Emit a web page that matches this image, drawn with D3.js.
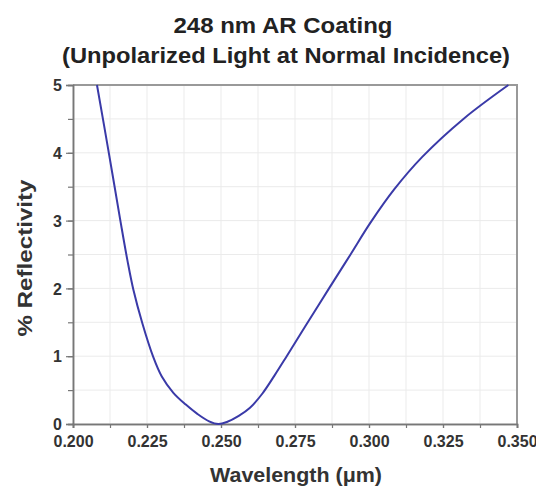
<!DOCTYPE html>
<html>
<head>
<meta charset="utf-8">
<script src="https://cdn.jsdelivr.net/npm/d3@7"></script>
<style>
  body { margin: 0; background: #fff; }
  text { font-family: "Liberation Sans", Arial, sans-serif; font-weight: bold; }
</style>
</head>
<body>
<svg></svg>
<script>
let width = 536;
let height = 489;
let margin = { top: 85, right: 19, bottom: 65, left: 73 };

// wavelength in µm, reflectivity in %
let wavelength = [0.2081, 0.2121, 0.2160, 0.2184, 0.2204, 0.2234, 0.2271, 0.2300, 0.2339, 0.2380,
                  0.2420, 0.2460, 0.2491, 0.2520, 0.2560, 0.2598, 0.2640, 0.2680, 0.2722,
                  0.2789, 0.2865, 0.2936, 0.3005, 0.3085, 0.3180, 0.3319, 0.3471];
let reflectivity = [5.00, 4.00, 3.00, 2.41, 1.98, 1.49, 0.99, 0.70, 0.46, 0.29,
                    0.15, 0.04, 0.00, 0.03, 0.12, 0.24, 0.45, 0.71, 1.00,
                    1.47, 2.00, 2.49, 2.97, 3.46, 3.94, 4.50, 5.00];
let xTicks = [0.200, 0.225, 0.250, 0.275, 0.300, 0.325, 0.350];
let yTicks = [0, 1, 2, 3, 4, 5];

let data = wavelength.map((w, i) => ({ w: w, r: reflectivity[i] }));

let xScale = d3.scaleLinear()
                .domain([0.2, 0.35])
                .range([margin.left, width - margin.right]);

let yScale = d3.scaleLinear()
                .domain([0, 5])
                .range([height - margin.bottom, margin.top]);

let svg = d3.select('svg')
              .attr('width', width)
              .attr('height', height);

// grid
let xMinor = d3.range(0.2, 0.3501, 0.0125);
let yMinor = d3.range(0, 5.01, 0.5);

svg.append('g')
  .selectAll('line')
  .data(xMinor)
  .enter()
  .append('line')
    .attr('x1', d => xScale(d))
    .attr('x2', d => xScale(d))
    .attr('y1', yScale(0))
    .attr('y2', yScale(5))
    .attr('stroke', '#ebebeb')
    .attr('stroke-width', 1);

svg.append('g')
  .selectAll('line')
  .data(yMinor)
  .enter()
  .append('line')
    .attr('x1', xScale(0.2))
    .attr('x2', xScale(0.35))
    .attr('y1', d => yScale(d))
    .attr('y2', d => yScale(d))
    .attr('stroke', '#ebebeb')
    .attr('stroke-width', 1);

// frame top and right
svg.append('path')
  .attr('d', `M${xScale(0.2)},${yScale(5)}H${xScale(0.35)}V${yScale(0)}`)
  .attr('fill', 'none')
  .attr('stroke', '#999')
  .attr('stroke-width', 2);

// minor ticks
let xAxisMinor = svg.append('g')
  .attr('transform', `translate(0, ${yScale(0)})`)
  .call(d3.axisBottom(xScale).tickValues(xMinor).tickSize(4).tickFormat(''));
let yAxisMinor = svg.append('g')
  .attr('transform', `translate(${xScale(0.2)}, 0)`)
  .call(d3.axisLeft(yScale).tickValues(yMinor).tickSize(5).tickFormat(''));

let xAxis = svg.append('g')
  .attr('transform', `translate(0, ${yScale(0)})`)
  .call(d3.axisBottom(xScale).tickValues(xTicks).tickSize(4).tickPadding(8).tickFormat(d3.format('.3f')));

let yAxis = svg.append('g')
  .attr('transform', `translate(${xScale(0.2)}, 0)`)
  .call(d3.axisLeft(yScale).tickValues(yTicks).tickSize(7).tickPadding(4).tickFormat(d3.format('d')));

[xAxisMinor, yAxisMinor, xAxis, yAxis].forEach(a => {
  a.select('.domain').attr('stroke', '#777').attr('stroke-width', 1.5);
  a.selectAll('.tick line').attr('stroke', '#777').attr('stroke-width', 1.2);
  a.selectAll('.tick text')
    .attr('fill', '#333')
    .style('font-size', '16px')
    .style('font-weight', 'bold')
    .style('font-family', '"Liberation Sans", Arial, sans-serif');
});
yAxis.selectAll('.tick text').attr('dy', '0.36em');

// curve
svg.append('path')
  .datum(data)
  .attr('d', d3.line()
                .x(d => xScale(d.w))
                .y(d => yScale(d.r))
                .curve(d3.curveCatmullRom.alpha(0.5)))
  .attr('fill', 'none')
  .attr('stroke', '#3a3aa8')
  .attr('stroke-width', 2);

// titles
svg.append('text')
  .attr('x', 283)
  .attr('y', 33)
  .attr('textLength', 219)
  .attr('lengthAdjust', 'spacingAndGlyphs')
  .style('text-anchor', 'middle')
  .style('font-size', '22px')
  .attr('fill', '#222')
  .text('248 nm AR Coating');

svg.append('text')
  .attr('x', 286)
  .attr('y', 63)
  .attr('textLength', 448)
  .attr('lengthAdjust', 'spacingAndGlyphs')
  .style('text-anchor', 'middle')
  .style('font-size', '22px')
  .attr('fill', '#222')
  .text('(Unpolarized Light at Normal Incidence)');

svg.append('text')
  .attr('x', 296)
  .attr('y', 482)
  .attr('textLength', 172)
  .attr('lengthAdjust', 'spacingAndGlyphs')
  .style('text-anchor', 'middle')
  .style('font-size', '20px')
  .attr('fill', '#333')
  .text('Wavelength (μm)');

svg.append('text')
  .attr('transform', 'rotate(-90)')
  .attr('x', -258)
  .attr('y', 32)
  .attr('textLength', 157)
  .attr('lengthAdjust', 'spacingAndGlyphs')
  .style('text-anchor', 'middle')
  .style('font-size', '21px')
  .attr('fill', '#333')
  .text('% Reflectivity');
</script>
</body>
</html>
